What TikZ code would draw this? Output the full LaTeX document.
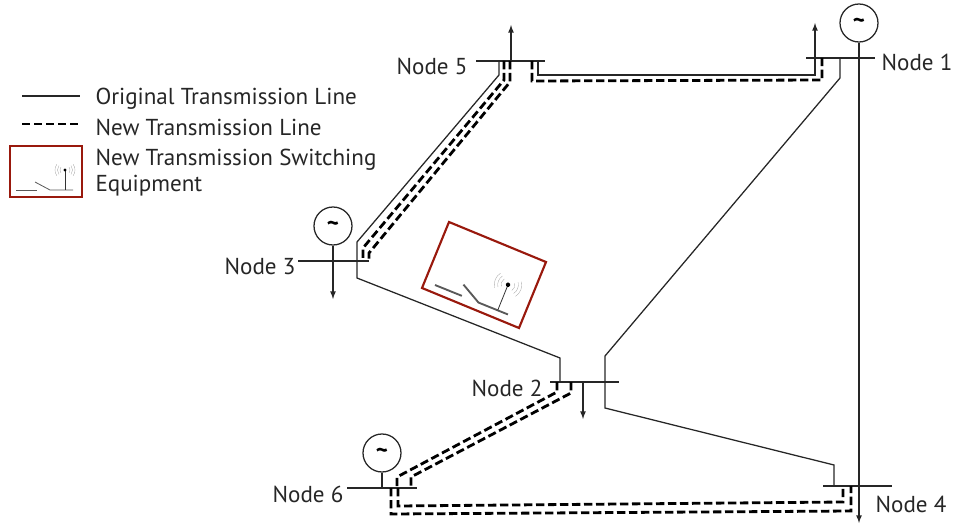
\documentclass[tikz,border=0pt]{standalone}
\usepackage{amsmath}
\usepackage{fontspec}
\setmainfont{PT Sans}
\usepackage{tikz}
\tikzset{every picture/.style={line width=0.75pt}}
\definecolor{boxred}{rgb}{0.6,0.1,0.05}
\definecolor{linegray}{rgb}{0.15,0.15,0.15}
\tikzset{
	oldline/.style={color=linegray,line width=0.95pt},
	newline/.style={color=black,line width=2.1pt,dash pattern={on 6.2pt off 2.8pt}},
	busbar/.style={color=linegray,line width=1.6pt},
	loadline/.style={color=linegray,line width=0.95pt,-latex},
	genbox/.style={draw=linegray,circle,line width=0.95pt,minimum size=28.5pt,inner sep=0pt,font=\bfseries\LARGE},
	txtlabel/.style={font=\fontsize{17.3}{20}\selectfont,inner sep=0pt,color=black!85},
	legendtxt/.style={txtlabel,anchor=base west},
	redbox/.style={draw=boxred,line width=1.6pt},
	pics/switchicon/.style={code={
		\draw [color=black!65,line width=#1] (0,0) -- (21,0);
		\draw [color=black!65,line width=#1] (19,-8) -- (34,0) -- (57,0);
		\draw [color=black!80,line width=0.6pt] (49,0) -- (49,-20);
		\fill [black] (49,-20) circle (1.6);
		\foreach \r in {5,7.5,10}{
			\draw [color=black!35,line width=0.25pt] (49,-20) ++(35:\r) arc [start angle=35,end angle=-35,radius=\r];
			\draw [color=black!35,line width=0.25pt] (49,-20) ++(145:\r) arc [start angle=145,end angle=215,radius=\r];
		}
	}}
}
\begin{document}
\begin{tikzpicture}[x=0.75pt,y=0.75pt,yscale=-1,xscale=1]
	\useasboundingbox (0,0) rectangle (953,524);

	% Bus bars
	\coordinate (busOneW) at (806,58);
	\coordinate (busOneE) at (875,58);
	\coordinate (busTwoW) at (550,382);
	\coordinate (busTwoE) at (619,382);
	\coordinate (busThreeW) at (298,261);
	\coordinate (busThreeE) at (369,261);
	\coordinate (busFourW) at (823,486);
	\coordinate (busFourE) at (892,486);
	\coordinate (busFiveW) at (476,61);
	\coordinate (busFiveE) at (545,61);
	\coordinate (busSixW) at (347,488);
	\coordinate (busSixE) at (417,488);
	\draw [busbar] (busOneW) -- (busOneE);
	\draw [busbar] (busTwoW) -- (busTwoE);
	\draw [busbar] (busThreeW) -- (busThreeE);
	\draw [busbar] (busFourW) -- (busFourE);
	\draw [busbar] (busFiveW) -- (busFiveE);
	\draw [busbar] (busSixW) -- (busSixE);

	% Generators
	\node [genbox] (genOne) at (859,23) {\textasciitilde};
	\node [genbox] (genThree) at (333,226) {\textasciitilde};
	\node [genbox] (genSix) at (382,453) {\textasciitilde};

	% Loads
	\coordinate (loadOne) at (859,523);
	\coordinate (loadThree) at (333,299);
	\coordinate (loadTwo) at (583,419);
	\coordinate (loadFive) at (511,25);
	\draw [loadline] (genOne) -- (loadOne);
	\draw [loadline] (genThree) -- (loadThree);
	\draw [oldline] (genSix) -- (382,488);
	\draw [loadline] (583,382) -- (loadTwo);
	\draw [loadline] (511,61) -- (loadFive);

	%Straight Lines
	\draw [oldline,-latex] (538,61) -- (538,75) -- (815,75) -- (815,23);
	\draw [oldline] (840,58) -- (840,78) -- (605,356) -- (605,408) -- (834,465) -- (834,486);
	\draw [oldline] (499,61) -- (499,75) -- (357,242) -- (357,278) -- (560,358) -- (560,382);

	%Dashed Lines
	\draw [newline] (504,61) -- (504,80) -- (363,248) -- (363,261);
	\draw [newline] (510,61) -- (510,82) -- (369,253) -- (369,261);
	\draw [newline] (532,61) -- (532,81) -- (822,80) -- (822,58);
	\draw [newline] (557,382) -- (557,392) -- (397,477) -- (397,488);
	\draw [newline] (571,382) -- (571,393) -- (411,477) -- (411,488);
	\draw [newline] (398,488) -- (398,506) -- (843,502) -- (843,486);
	\draw [newline] (391,488) -- (391,514) -- (851,511) -- (851,486);

	% Text Node
	\node [txtlabel] (lblOne) at (917,62) {Node 1};
	\node [txtlabel] (lblTwo) at (507,388) {Node 2};
	\node [txtlabel] (lblThree) at (260,266) {Node 3};
	\node [txtlabel] (lblFour) at (911,504) {Node 4};
	\node [txtlabel] (lblFive) at (432,66) {Node 5};
	\node [txtlabel] (lblSix) at (308,494) {Node 6};

	% Tilted switching equipment
	\draw [redbox] (449,222) -- (546,262) -- (519,328) -- (422,288) -- cycle;
	\pic [rotate=-22,scale=1.38,yscale=-1] at (435,285) {switchicon=1.4pt};

	% Legend
	\draw [oldline] (22,96) -- (80,96);
	\draw [newline] (22,124) -- (80,124);
	\draw [redbox] (10,146) rectangle (82,197);
	\pic [yscale=-1] at (16,190) {switchicon=0.6pt};
	\node [legendtxt] (lgdOld) at (95,105) {Original Transmission Line};
	\node [legendtxt] (lgdNew) at (95,136) {New Transmission Line};
	\node [legendtxt] (lgdSwitch) at (95,166) {New Transmission Switching};
	\node [legendtxt] (lgdEquip) at (95,192) {Equipment};
\end{tikzpicture}
\end{document}
